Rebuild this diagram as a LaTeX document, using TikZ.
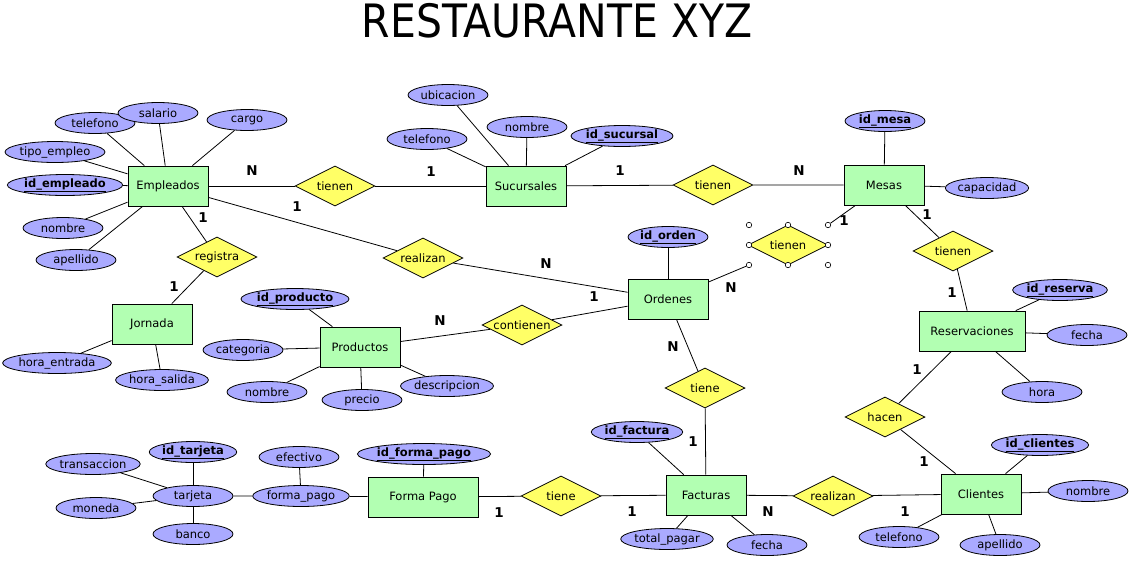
\documentclass[tikz,border=0pt]{standalone}
\usepackage{fontspec}
\setmainfont{DejaVu Sans}
\usetikzlibrary{shapes.geometric}
\definecolor{verde}{RGB}{178,255,178}
\definecolor{amarillo}{RGB}{255,255,102}
\definecolor{lila}{RGB}{170,170,255}

\begin{document}
\begin{tikzpicture}[x=1pt,y=-1pt,line width=0.8pt,
  every node/.style={font=\fontsize{11.5}{13}\selectfont},
  entidad/.style={draw,fill=verde,minimum width=80pt,minimum height=40pt,inner sep=0pt},
  relacion/.style={draw,fill=amarillo,diamond,aspect=2,minimum width=80pt,minimum height=40pt,inner sep=0pt},
  atributo/.style={draw,fill=lila,ellipse,minimum width=80pt,minimum height=21pt,inner sep=0pt},
  clave/.style={atributo,font=\fontsize{11.5}{13}\selectfont\bfseries},
  card/.style={font=\fontsize{13.5}{15}\selectfont\bfseries},
  handle/.style={draw,fill=white,circle,minimum size=5.5pt,inner sep=0pt,line width=0.6pt}]
\useasboundingbox (0,0) rectangle (1133,566);
\node (titulo) at (557,21) {\fontsize{46}{50}\selectfont\scalebox{0.89}[1]{RESTAURANTE XYZ}};

% entidades
\node[entidad] (emp) at (168,186) {Empleados};
\node[entidad] (suc) at (526,186) {Sucursales};
\node[entidad] (mesas) at (884,185) {Mesas};
\node[entidad] (ord) at (668,299) {Ordenes};
\node[entidad] (jor) at (152,324) {Jornada};
\node[entidad] (prod) at (360,347) {Productos};
\node[entidad,minimum width=106pt] (res) at (972,331) {Reservaciones};
\node[entidad,minimum width=110pt] (fpago) at (423,497) {Forma Pago};
\node[entidad] (fac) at (706,495) {Facturas};
\node[entidad] (cli) at (981,494) {Clientes};

% relaciones
\node[relacion] (tienen1) at (335,186) {tienen};
\node[relacion] (tienen2) at (713,185) {tienen};
\node[relacion] (registra) at (217,257) {registra};
\node[relacion] (realizan1) at (423,258) {realizan};
\node[relacion] (tienen3) at (788,245) {tienen};
\node[relacion] (tienen4) at (953,251) {tienen};
\node[relacion] (contienen) at (522,325) {contienen};
\node[relacion] (tiene1) at (705,388) {tiene};
\node[relacion] (hacen) at (885,417) {hacen};
\node[relacion] (tiene2) at (561,496) {tiene};
\node[relacion] (realizan2) at (833,496) {realizan};

% marcas de seleccion
\foreach \hx/\hy/\hn in {749/225/nw,788/225/n,828/225/ne,749/245/w,828/245/e,749/265/sw,788/265/s,828/265/se}
  \node[handle] (h\hn) at (\hx,\hy) {};

% atributos de Empleados
\node[atributo] (emp_tel) at (95,123) {telefono};
\node[atributo] (emp_sal) at (158,113) {salario};
\node[atributo] (emp_car) at (247,120) {cargo};
\node[atributo] (emp_tip) at (55,152) {tipo\_empleo};
\node[clave,minimum width=106pt] (emp_id) at (65,185) {\underline{id\_empleado}};
\node[atributo] (emp_nom) at (63,228) {nombre};
\node[atributo] (emp_ape) at (76,260) {apellido};
% atributos de Sucursales
\node[atributo] (suc_ubi) at (448,95) {ubicacion};
\node[atributo] (suc_tel) at (427,139) {telefono};
\node[atributo] (suc_nom) at (527,127) {nombre};
\node[clave,minimum width=87pt] (suc_id) at (622,136) {\underline{id\_sucursal}};
% atributos de Mesas
\node[clave] (mes_id) at (885,121) {\underline{id\_mesa}};
\node[atributo] (mes_cap) at (987,188) {capacidad};
% atributos de Ordenes
\node[clave] (ord_id) at (668,237) {\underline{id\_orden}};
% atributos de Jornada
\node[atributo,minimum width=100pt] (jor_ent) at (57,363) {hora\_entrada};
\node[atributo] (jor_sal) at (162,380) {hora\_salida};
% atributos de Productos
\node[clave,minimum width=100pt] (prod_id) at (295,299) {\underline{id\_producto}};
\node[atributo] (prod_cat) at (243,350) {categoria};
\node[atributo] (prod_nom) at (267,392) {nombre};
\node[atributo] (prod_pre) at (362,400) {precio};
\node[atributo] (prod_des) at (447,386) {descripcion};
% atributos de Reservaciones
\node[clave] (res_id) at (1060,290) {\underline{id\_reserva}};
\node[atributo] (res_fec) at (1087,335) {fecha};
\node[atributo] (res_hor) at (1042,392) {hora};
% atributos de Clientes
\node[clave] (cli_id) at (1040,445) {\underline{id\_clientes}};
\node[atributo] (cli_nom) at (1088,491) {nombre};
\node[atributo] (cli_tel) at (899,537) {telefono};
\node[atributo] (cli_ape) at (1000,545) {apellido};
% atributos de Facturas
\node[clave] (fac_id) at (637,432) {\underline{id\_factura}};
\node[atributo] (fac_tot) at (667,539) {total\_pagar};
\node[atributo] (fac_fec) at (767,545) {fecha};
% atributos de Forma Pago
\node[clave,minimum width=122pt] (fp_id) at (424,454) {\underline{id\_forma\_pago}};
\node[atributo,minimum width=92pt] (fp_fp) at (301,496) {forma\_pago};
\node[atributo] (fp_efe) at (299,457) {efectivo};
\node[atributo] (tar) at (193,496) {tarjeta};
\node[clave] (tar_id) at (193,452) {\underline{id\_tarjeta}};
\node[atributo] (tar_tra) at (93,464) {transaccion};
\node[atributo] (tar_mon) at (96,508) {moneda};
\node[atributo] (tar_ban) at (193,534) {banco};

% relaciones entre entidades
\draw (emp) -- (tienen1) -- (suc);
\draw (suc) -- (tienen2) -- (mesas);
\draw (emp) -- (registra) -- (jor);
\draw (emp) -- (realizan1) -- (ord);
\draw (prod) -- (contienen) -- (ord);
\draw (mesas) -- (hne);
\draw (ord) -- (hsw);
\draw (mesas) -- (tienen4) -- (res);
\draw (ord) -- (tiene1) -- (fac);
\draw (res) -- (hacen) -- (cli);
\draw (fpago) -- (tiene2) -- (fac);
\draw (fac) -- (realizan2) -- (cli);

% lineas de atributos
\foreach \a in {emp_tel,emp_sal,emp_car,emp_tip,emp_id,emp_nom,emp_ape}
  \draw (emp) -- (\a);
\foreach \a in {suc_ubi,suc_tel,suc_nom,suc_id}
  \draw (suc) -- (\a);
\foreach \a in {mes_id,mes_cap}
  \draw (mesas) -- (\a);
\draw (ord) -- (ord_id);
\foreach \a in {jor_ent,jor_sal}
  \draw (jor) -- (\a);
\foreach \a in {prod_id,prod_cat,prod_nom,prod_pre,prod_des}
  \draw (prod) -- (\a);
\foreach \a in {res_id,res_fec,res_hor}
  \draw (res) -- (\a);
\foreach \a in {cli_id,cli_nom,cli_tel,cli_ape}
  \draw (cli) -- (\a);
\foreach \a in {fac_id,fac_tot,fac_fec}
  \draw (fac) -- (\a);
\draw (fpago) -- (fp_id);
\draw (fpago) -- (fp_fp) -- (tar);
\draw (fp_fp) -- (fp_efe);
\foreach \a in {tar_id,tar_tra,tar_mon,tar_ban}
  \draw (tar) -- (\a);

% cardinalidades
\foreach \cx/\cy/\ct [count=\i] in {252/171/N,431/172/1,620/171/1,799/171/N,297/207/1,203/218/1,
    174/287/1,546/264/N,594/297/1,440/321/N,731/288/N,844/221/1,927/215/1,952/293/1,
    673/347/N,693/442/1,917/370/1,924/462/1,499/513/1,632/512/1,768/512/N,905/512/1}
  \node[card] (c\i) at (\cx,\cy) {\ct};
\end{tikzpicture}
\end{document}
